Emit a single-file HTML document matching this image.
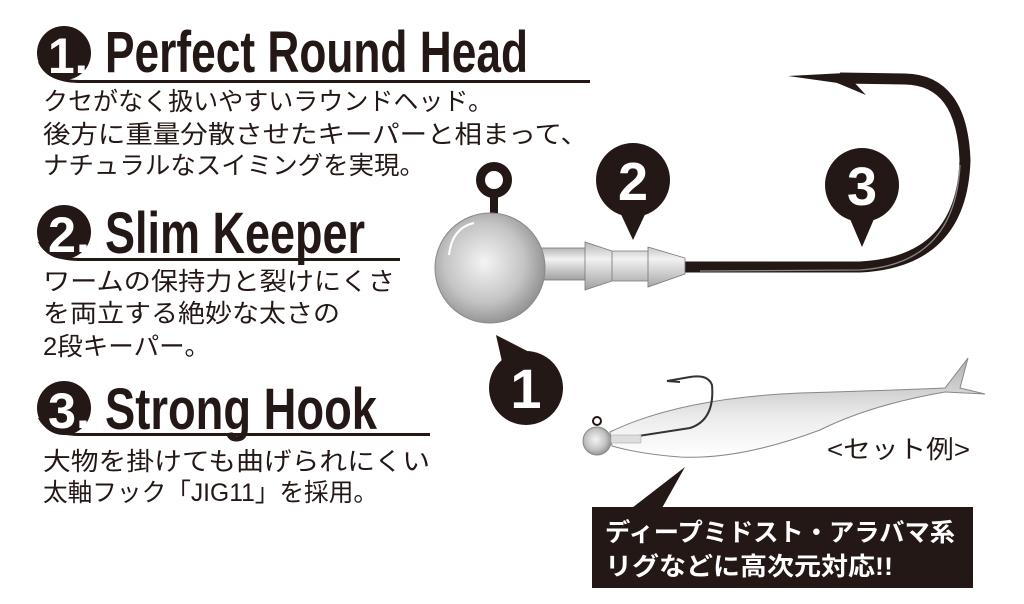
<!DOCTYPE html>
<html><head><meta charset="utf-8"><style>
html,body{margin:0;padding:0;background:#fff;}
svg{display:block;}
.t{font-family:"Liberation Sans Narrow","Liberation Sans",sans-serif;font-weight:bold;fill:#231815;}
.j{font-family:"Liberation Sans","Noto Sans CJK JP",sans-serif;fill:#231815;font-size:25px;}
.n{font-family:"Liberation Sans Narrow","Liberation Sans",sans-serif;font-weight:bold;fill:#fff;}
</style></head><body>
<svg width="1024" height="604" viewBox="0 0 1024 604" xmlns="http://www.w3.org/2000/svg">
<defs>
<radialGradient id="ball" cx="0.45" cy="0.45" r="0.6">
<stop offset="0" stop-color="#f4f4f4"/><stop offset="0.6" stop-color="#c4c4c4"/><stop offset="1" stop-color="#8a8a8a"/>
</radialGradient>
<linearGradient id="met" x1="0" y1="0" x2="0" y2="1">
<stop offset="0" stop-color="#b5b5b5"/><stop offset="0.35" stop-color="#f2f2f2"/><stop offset="1" stop-color="#a0a0a0"/>
</linearGradient>
<linearGradient id="fish" x1="0" y1="0" x2="0" y2="1">
<stop offset="0" stop-color="#b0b0b0"/><stop offset="0.6" stop-color="#ececec"/><stop offset="1" stop-color="#fff"/>
</linearGradient>
</defs>

<!-- Section 1 -->
<circle cx="64" cy="53" r="27" fill="#231815"/>
<path d="M40 62 Q50 80 80 80 L590 80 L590 83 L78 83 Q46 82 38 62Z" fill="#231815"/>
<text class="n" x="48" y="73" font-size="50" textLength="40" lengthAdjust="spacingAndGlyphs">1.</text>
<text class="t" x="105" y="72" font-size="58" textLength="423" lengthAdjust="spacingAndGlyphs">Perfect Round Head</text>
<text class="j" x="43" y="110" textLength="450" lengthAdjust="spacingAndGlyphs">クセがなく扱いやすいラウンドヘッド。</text>
<text class="j" x="43" y="143" textLength="545" lengthAdjust="spacingAndGlyphs">後方に重量分散させたキーパーと相まって、</text>
<text class="j" x="43" y="174" textLength="382" lengthAdjust="spacingAndGlyphs">ナチュラルなスイミングを実現。</text>

<!-- Section 2 -->
<circle cx="64" cy="232" r="27" fill="#231815"/>
<path d="M40 242 Q50 258 80 258 L400 258 L400 261 L78 261 Q46 260 38 242Z" fill="#231815"/>
<text class="n" x="48" y="252" font-size="50" textLength="42" lengthAdjust="spacingAndGlyphs">2.</text>
<text class="t" x="105" y="253" font-size="58" textLength="260" lengthAdjust="spacingAndGlyphs">Slim Keeper</text>
<text class="j" x="43" y="290" textLength="352" lengthAdjust="spacingAndGlyphs">ワームの保持力と裂けにくさ</text>
<text class="j" x="43" y="322" textLength="297" lengthAdjust="spacingAndGlyphs">を両立する絶妙な太さの</text>
<text class="j" x="43" y="355" textLength="167" lengthAdjust="spacingAndGlyphs">2段キーパー。</text>

<!-- Section 3 -->
<circle cx="64" cy="408" r="27" fill="#231815"/>
<path d="M40 418 Q50 433 80 433 L430 433 L430 436 L78 436 Q46 435 38 418Z" fill="#231815"/>
<text class="n" x="48" y="428" font-size="50" textLength="42" lengthAdjust="spacingAndGlyphs">3.</text>
<text class="t" x="105" y="429" font-size="58" textLength="272" lengthAdjust="spacingAndGlyphs">Strong  Hook</text>
<text class="j" x="43" y="470" textLength="387" lengthAdjust="spacingAndGlyphs">大物を掛けても曲げられにくい</text>
<text class="j" x="43" y="501" textLength="335" lengthAdjust="spacingAndGlyphs">太軸フック「JIG11」を採用。</text>

<!-- Hook -->
<path d="M684 267 L860 267 Q962 262 965 160 Q962 80 905 79 L840 78" stroke="#231815" stroke-width="11" fill="none"/>
<path d="M845 73 L788 76 L845 84Z" fill="#231815"/>
<path d="M830 80 L866 95 L852 80Z" fill="#231815"/>
<path d="M700 271 L860 270 Q955 264 960 165" stroke="#888" stroke-width="1.3" fill="none"/>
<!-- eye -->
<circle cx="494" cy="180" r="13.5" fill="none" stroke="#231815" stroke-width="9"/>
<rect x="490" y="192" width="8" height="22" fill="#231815"/>
<!-- neck & keepers -->
<rect x="540" y="248" width="46" height="32" fill="url(#met)" stroke="#777" stroke-width="0.8"/>
<path d="M585 242 L612 251 L648 251 L648 247 L685 258 L685 274 L648 287 L648 281 L612 281 L585 290Z" fill="url(#met)" stroke="#777" stroke-width="0.8"/>
<line x1="612" y1="251" x2="612" y2="281" stroke="#888"/>
<line x1="648" y1="247" x2="648" y2="287" stroke="#888"/>
<!-- ball -->
<circle cx="490" cy="268" r="55" fill="url(#ball)" stroke="#888" stroke-width="1"/>
<path d="M449 255 Q452 228 474 223" stroke="#fff" stroke-width="2" fill="none"/>

<!-- markers -->
<circle cx="633" cy="180" r="37" fill="#231815"/>
<path d="M618 208 L633 240 L648 208Z" fill="#231815"/>
<text class="n" x="633" y="200" font-size="54" text-anchor="middle">2</text>
<circle cx="862" cy="185" r="37" fill="#231815"/>
<path d="M847 212 L862 247 L877 212Z" fill="#231815"/>
<text class="n" x="862" y="205" font-size="54" text-anchor="middle">3</text>
<path d="M496 335 L505 375 L535 355Z" fill="#231815"/>
<circle cx="526" cy="388" r="37" fill="#231815"/>
<text class="n" x="526" y="408" font-size="56" text-anchor="middle">1</text>

<!-- fish set -->
<path d="M610 432 Q680 398 800 393 Q900 390 945 388 L968 358 L960 388 L985 394 L945 392 Q870 405 820 430 Q740 460 680 457 Q640 454 612 446Z" fill="url(#fish)" stroke="#888" stroke-width="1"/>
<path d="M612 440 L690 428 Q715 420 712 385 Q708 374 690 377 L667 381 L680 382" stroke="#333" stroke-width="2" fill="none"/>
<circle cx="597" cy="441" r="14" fill="url(#ball)" stroke="#888"/>
<circle cx="597" cy="421" r="4" fill="none" stroke="#231815" stroke-width="2"/>
<rect x="611" y="435" width="30" height="8" fill="#ddd" stroke="#aaa" stroke-width="0.6"/>
<text class="j" x="827" y="458" font-size="24" textLength="143" lengthAdjust="spacingAndGlyphs">&lt;セット例&gt;</text>

<!-- callout box -->
<path d="M632 508 L685 467 L662 508Z" fill="#231815"/>
<rect x="592" y="507" width="381" height="81" fill="#231815"/>
<text class="j" x="605" y="541" font-size="26" font-weight="bold" style="fill:#fff" textLength="350" lengthAdjust="spacingAndGlyphs">ディープミドスト・アラバマ系</text>
<text class="j" x="605" y="575" font-size="26" font-weight="bold" style="fill:#fff" textLength="288" lengthAdjust="spacingAndGlyphs">リグなどに高次元対応!!</text>
</svg>
</body></html>
